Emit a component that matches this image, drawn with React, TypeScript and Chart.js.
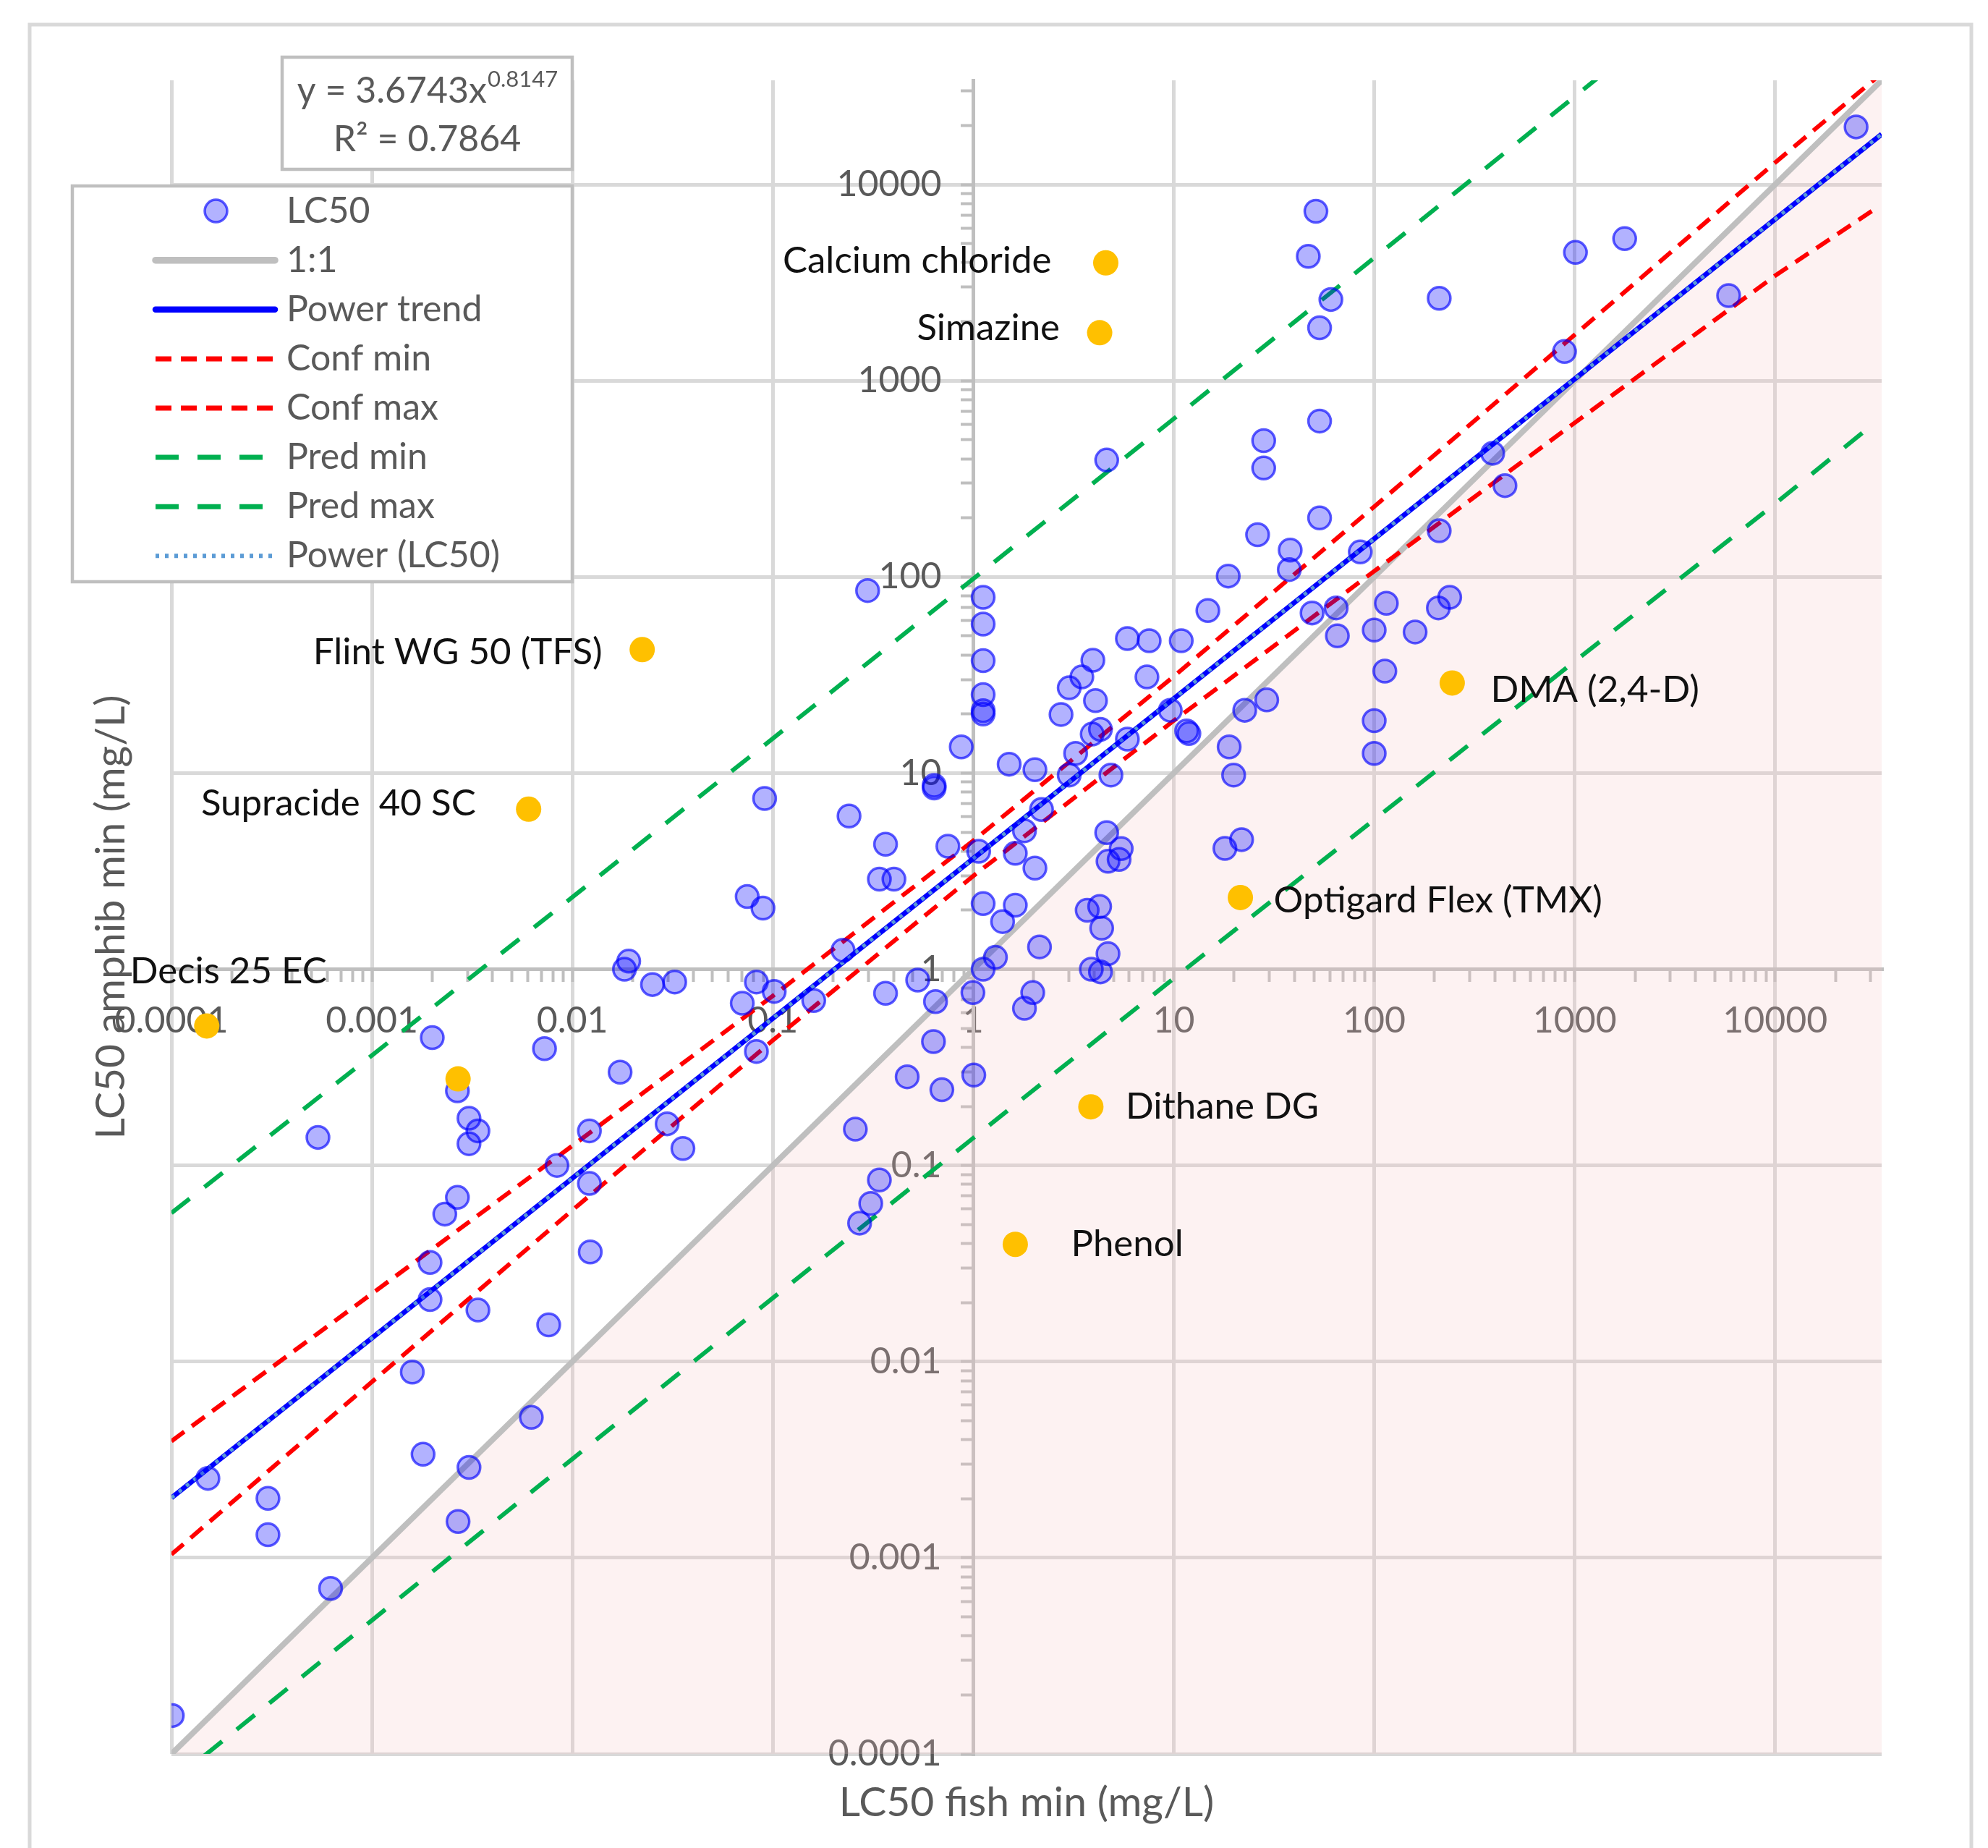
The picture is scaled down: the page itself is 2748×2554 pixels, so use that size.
import { useEffect, useRef } from 'react';
import { Chart, registerables } from 'chart.js';

Chart.register(...registerables);

const CANVAS_W = 2748;
const CANVAS_H = 2554;

// ---------- axes ----------
const axisMin = 0.0001;
const axisMax = 34000;
const tickValues = [0.0001, 0.001, 0.01, 0.1, 1, 10, 100, 1000, 10000];
const tickLabels = ['0.0001', '0.001', '0.01', '0.1', '1', '10', '100', '1000', '10000'];
const minorMultipliers = [2, 3, 4, 5, 6, 7, 8, 9];

const xTitle = 'LC50 fish min (mg/L)';
const yTitle = 'LC50 amphib min (mg/L)';

// ---------- series ----------
const seriesNames = ['LC50', '1:1', 'Power trend', 'Conf min', 'Conf max', 'Pred min', 'Pred max', 'Power (LC50)'];

// LC50 fish min (x) and LC50 amphibian min (y), mg/L
const fishLC50 = [
  25350, 51.2, 46.9, 1776, 1009, 60.8, 53.4, 211, 5863, 890,
  53.4, 390, 449, 53.4, 211, 85.2, 49.0, 64.6, 115, 209,
  238, 65.5, 100, 160, 113, 100, 100, 4.63, 28.1, 28.1,
  26.2, 38.1, 37.7, 18.7, 14.8, 0.297, 1.12, 1.12, 1.12, 1.12,
  1.12, 1.12, 0.871, 0.638, 0.638, 0.091, 0.240, 0.365, 0.747, 0.340,
  0.402, 0.0745, 0.0893, 1.064, 1.51, 2.03, 2.19, 1.80, 1.62, 2.03,
  1.12, 1.62, 1.40, 1.29, 1.12, 0.224, 0.0828, 0.1016, 0.0704, 0.160,
  0.365, 0.528, 0.648, 0.996, 1.98, 1.80, 4.63, 5.47, 4.70, 5.34,
  3.70, 4.27, 4.37, 4.70, 3.88, 4.31, 2.14, 3.01, 3.48, 3.95,
  4.07, 2.74, 5.87, 7.54, 10.9, 7.35, 9.61, 11.6, 11.9, 3.92,
  4.31, 5.87, 3.24, 3.01, 4.86, 18.9, 19.9, 22.6, 29.1, 18.0,
  21.8, 0.633, 0.468, 0.697, 1.006, 0.258, 0.340, 0.308, 0.271, 0.0297,
  0.0356, 0.0251, 0.0324, 0.0828, 0.0191, 0.0182, 0.00200, 0.00726, 0.0173, 0.00267,
  0.00305, 0.00338, 0.00305, 0.000538, 0.01216, 0.00838, 0.01216, 0.00267, 0.00231, 0.00195,
  0.01228, 0.00195, 0.00338, 0.00762, 0.00159, 0.00624, 0.00180, 0.00305, 0.000152, 0.000303,
  0.000303, 0.00269, 0.000622, 0.000101,
];
const amphibLC50 = [
  19680, 7310, 4310, 5300, 4510, 2596, 1862, 2633, 2716, 1409,
  623, 427, 292, 200, 172, 134, 65.5, 69.5, 73.4, 69.5,
  78.7, 50.1, 53.6, 52.4, 33.1, 18.5, 12.6, 394, 495, 359,
  164, 137, 109, 101, 67.4, 85.2, 78.7, 57.5, 37.4, 25.1,
  20.8, 20.0, 13.6, 8.65, 8.40, 7.42, 6.04, 4.34, 4.24, 2.88,
  2.88, 2.35, 2.05, 3.99, 11.1, 10.4, 6.52, 5.08, 3.90, 3.28,
  2.16, 2.12, 1.75, 1.15, 1.00, 1.25, 0.861, 0.771, 0.671, 0.693,
  0.754, 0.881, 0.684, 0.760, 0.760, 0.632, 4.97, 4.12, 3.55, 3.63,
  2.00, 2.09, 1.62, 1.20, 1.00, 0.97, 1.30, 27.2, 30.9, 37.6,
  23.4, 19.9, 48.5, 47.3, 47.3, 30.9, 20.9, 16.4, 15.9, 15.8,
  16.7, 14.9, 12.6, 9.77, 9.77, 13.6, 9.77, 20.9, 23.6, 4.13,
  4.58, 0.428, 0.283, 0.243, 0.289, 0.153, 0.0843, 0.0640, 0.0508, 0.163,
  0.122, 0.836, 0.861, 0.381, 1.10, 1.00, 0.448, 0.394, 0.299, 0.240,
  0.174, 0.150, 0.129, 0.139, 0.150, 0.100, 0.0809, 0.0687, 0.0565, 0.0320,
  0.0362, 0.0207, 0.0183, 0.0154, 0.00884, 0.00520, 0.00337, 0.00289, 0.00254, 0.00201,
  0.00131, 0.00153, 0.000698, 0.000157,
];

// highlighted (named) substances
const namedLabels = ['Calcium chloride', 'Simazine', 'Flint WG 50 (TFS)', 'Supracide  40 SC', 'Decis 25 EC', '', 'DMA (2,4-D)', 'Optigard Flex (TMX)', 'Dithane DG', 'Phenol'];
const namedFish = [4.58, 4.27, 0.0223, 0.00605, 0.000150, 0.00269, 245, 21.5, 3.86, 1.62];
const namedAmphib = [3990, 1757, 42.6, 6.55, 0.514, 0.276, 28.8, 2.32, 0.199, 0.0396];

// 1:1 line
const identityX = [0.0001, 34000];
const identityY = [0.0001, 34000];

// power trend y = 3.6743 x^0.8147 (end points)
const trendX = [0.0001, 34000];
const trendY = [0.00202, 18070];

// confidence and prediction bands read at each decade
const bandX = [0.0001, 0.001, 0.01, 0.1, 1, 10, 100, 1000, 10000, 32000];
const confMinY = [0.00104, 0.00788, 0.0591, 0.434, 2.99, 18.5, 107, 610, 3430, 7600];
const confMaxY = [0.00393, 0.0222, 0.126, 0.731, 4.52, 31.1, 228, 1713, 12950, 35000];
const predMinY = [0.0000717, 0.00048, 0.00319, 0.0211, 0.138, 0.898, 5.79, 37.1, 236, 620];
const predMaxY = [0.0572, 0.364, 2.33, 15.0, 97.8, 640, 4230, 28100, 188000, 500000];

const equationMain = 'y = 3.6743x';
const equationExponent = '0.8147';
const rSquaredText = 'R\u00B2 = 0.7864';

// ---------- styles / layout ----------
const FONT = 'Lato, "DejaVu Sans", sans-serif';
const TEXT_GREY = '#595959';
const Y_LABEL_GAP = '\u2003\u2009'; // keeps the y labels clear of the centred axis line
const labelPlacement = [
  { side: 'left', dx: -75, dy: -3 },
  { side: 'left', dx: -55, dy: -6 },
  { side: 'left', dx: -55, dy: 4 },
  { side: 'left', dx: -73, dy: -8 },
  { side: 'center', dx: 30, dy: -75 },
  { side: 'none', dx: 0, dy: 0 },
  { side: 'right', dx: 53, dy: 10 },
  { side: 'right', dx: 46, dy: 4 },
  { side: 'right', dx: 48, dy: 0 },
  { side: 'right', dx: 77, dy: 0 },
];
const frame = { left: 41, top: 34, right: 2725 };
const equationBox = { left: 390, top: 79, right: 791, bottom: 234 };
const legendBox = { left: 100, top: 257, right: 791, bottom: 804 };
const legendLayout = { firstRowY: 291.6, rowGap: 68.1, sampleStart: 215, sampleEnd: 380, markerX: 298.5, textX: 396 };

function toPoints(xs: number[], ys: number[]) {
  return xs.map((x, i) => ({ x, y: ys[i] }));
}

function labelFor(v: number) {
  for (let i = 0; i < tickValues.length; i++) {
    if (Math.abs(Math.log10(v) - Math.log10(tickValues[i])) < 1e-6) return tickLabels[i];
  }
  return '';
}

function buildLogTicks(scale: any) {
  const ticks: any[] = [];
  tickValues.forEach((d) => {
    [1, ...minorMultipliers].forEach((m) => {
      const v = m * d;
      if (v >= axisMin * 0.999999 && v <= axisMax) ticks.push({ value: v, major: m === 1 });
    });
  });
  ticks.sort((a, b) => a.value - b.value);
  scale.ticks = ticks;
}

const NAMED_INDEX = 8;

const decorPlugin = {
  id: 'decor',
  beforeDraw(chart: any) {
    const { ctx, width, height } = chart;
    ctx.save();
    ctx.fillStyle = '#ffffff';
    ctx.fillRect(0, 0, width, height);
    ctx.strokeStyle = '#d9d9d9';
    ctx.lineWidth = 5;
    ctx.beginPath();
    ctx.moveTo(frame.left, height + 10);
    ctx.lineTo(frame.left, frame.top);
    ctx.lineTo(frame.right, frame.top);
    ctx.lineTo(frame.right, height + 10);
    ctx.stroke();
    ctx.restore();
  },
  afterDraw(chart: any) {
    const ctx = chart.ctx;
    const area = chart.chartArea;
    ctx.save();

    // labels of named points
    const meta = chart.getDatasetMeta(NAMED_INDEX);
    ctx.font = `51px ${FONT}`;
    ctx.fillStyle = '#111111';
    ctx.textBaseline = 'middle';
    meta.data.forEach((el: any, i: number) => {
      const text = namedLabels[i];
      const pl = labelPlacement[i];
      if (!text || !pl || pl.side === 'none') return;
      ctx.textAlign = pl.side === 'left' ? 'right' : pl.side === 'right' ? 'left' : 'center';
      ctx.fillText(text, el.x + pl.dx, el.y + pl.dy);
    });

    // equation box
    ctx.fillStyle = '#ffffff';
    ctx.fillRect(equationBox.left, equationBox.top, equationBox.right - equationBox.left, equationBox.bottom - equationBox.top);
    ctx.strokeStyle = '#bfbfbf';
    ctx.lineWidth = 4.5;
    ctx.strokeRect(equationBox.left, equationBox.top, equationBox.right - equationBox.left, equationBox.bottom - equationBox.top);
    ctx.fillStyle = TEXT_GREY;
    ctx.textBaseline = 'alphabetic';
    ctx.textAlign = 'left';
    ctx.font = `50px ${FONT}`;
    const w1 = ctx.measureText(equationMain).width;
    ctx.font = `31px ${FONT}`;
    const w2 = ctx.measureText(equationExponent).width;
    const cx = (equationBox.left + equationBox.right) / 2;
    const x0 = cx - (w1 + w2) / 2;
    ctx.font = `50px ${FONT}`;
    ctx.fillText(equationMain, x0, 142);
    ctx.font = `31px ${FONT}`;
    ctx.fillText(equationExponent, x0 + w1 + 1, 120);
    ctx.font = `50px ${FONT}`;
    ctx.textAlign = 'center';
    ctx.fillText(rSquaredText, cx, 209);

    // legend
    ctx.fillStyle = '#ffffff';
    ctx.fillRect(legendBox.left, legendBox.top, legendBox.right - legendBox.left, legendBox.bottom - legendBox.top);
    ctx.strokeStyle = '#bfbfbf';
    ctx.lineWidth = 4.5;
    ctx.strokeRect(legendBox.left, legendBox.top, legendBox.right - legendBox.left, legendBox.bottom - legendBox.top);
    const datasets = chart.data.datasets;
    seriesNames.forEach((name, i) => {
      const ds = datasets[i];
      const y = legendLayout.firstRowY + i * legendLayout.rowGap;
      if (!ds.showLine) {
        ctx.beginPath();
        ctx.arc(legendLayout.markerX, y, ds.pointRadius, 0, Math.PI * 2);
        ctx.fillStyle = ds.backgroundColor;
        ctx.fill();
        ctx.lineWidth = ds.borderWidth;
        ctx.strokeStyle = ds.borderColor;
        ctx.stroke();
      } else {
        ctx.beginPath();
        ctx.setLineDash(ds.borderDash || []);
        ctx.lineCap = ds.borderDash ? 'butt' : 'round';
        ctx.lineWidth = ds.borderWidth + (ds.borderDash ? 1 : 1.5);
        ctx.strokeStyle = ds.borderColor;
        ctx.moveTo(legendLayout.sampleStart, y);
        ctx.lineTo(legendLayout.sampleEnd, y);
        ctx.stroke();
        ctx.setLineDash([]);
        ctx.lineCap = 'butt';
      }
      ctx.fillStyle = TEXT_GREY;
      ctx.font = `50px ${FONT}`;
      ctx.textAlign = 'left';
      ctx.textBaseline = 'middle';
      ctx.fillText(name, legendLayout.textX, y);
    });

    // axis titles
    ctx.fillStyle = TEXT_GREY;
    ctx.font = `57px ${FONT}`;
    ctx.textAlign = 'center';
    ctx.textBaseline = 'middle';
    ctx.fillText(xTitle, (area.left + area.right) / 2, area.bottom + 68);
    ctx.translate(area.left - 83, (area.top + area.bottom) / 2);
    ctx.rotate(-Math.PI / 2);
    ctx.fillText(yTitle, 0, 0);
    ctx.restore();
  },
};

function axisOptions(position: any, padding: number, suffix: string) {
  return {
    type: 'logarithmic',
    position,
    min: axisMin,
    max: axisMax,
    afterBuildTicks: buildLogTicks,
    grid: {
      color: (c: any) => (c.tick && c.tick.major ? '#d9d9d9' : 'rgba(0,0,0,0)'),
      lineWidth: 5,
      drawTicks: true,
      tickLength: 15,
      tickWidth: 4,
      tickColor: '#bfbfbf',
    },
    border: { display: true, color: '#bfbfbf', width: 5 },
    ticks: {
      autoSkip: false,
      maxRotation: 0,
      minRotation: 0,
      color: TEXT_GREY,
      font: { family: FONT, size: 50 },
      padding,
      callback: (v: any) => {
        const s = labelFor(Number(v));
        return s ? s + suffix : '';
      },
    },
  };
}

export default function App() {
  const canvasRef = useRef<HTMLCanvasElement | null>(null);

  useEffect(() => {
    const canvas = canvasRef.current;
    if (!canvas) return;
    const lineBase = { showLine: true, pointRadius: 0, pointHoverRadius: 0, tension: 0, fill: false };
    const datasets: any[] = [
      {
        label: seriesNames[0],
        data: toPoints(fishLC50, amphibLC50),
        showLine: false,
        pointRadius: 15.5,
        borderWidth: 3.5,
        backgroundColor: 'rgba(0,0,255,0.30)',
        borderColor: 'rgba(0,0,255,0.64)',
        order: 1,
      },
      {
        ...lineBase,
        label: seriesNames[1],
        data: toPoints(identityX, identityY),
        borderColor: '#bfbfbf',
        borderWidth: 8,
        fill: 'start',
        backgroundColor: 'rgba(245,195,195,0.22)',
        order: 10,
      },
      { ...lineBase, label: seriesNames[2], data: toPoints(trendX, trendY), borderColor: '#0000ff', borderWidth: 7, order: 3 },
      { ...lineBase, label: seriesNames[3], data: toPoints(bandX, confMinY), borderColor: '#ff0000', borderWidth: 6, borderDash: [22, 13], order: 4 },
      { ...lineBase, label: seriesNames[4], data: toPoints(bandX, confMaxY), borderColor: '#ff0000', borderWidth: 6, borderDash: [22, 13], order: 4 },
      { ...lineBase, label: seriesNames[5], data: toPoints(bandX, predMinY), borderColor: '#00b050', borderWidth: 6, borderDash: [32, 26], order: 5 },
      { ...lineBase, label: seriesNames[6], data: toPoints(bandX, predMaxY), borderColor: '#00b050', borderWidth: 6, borderDash: [32, 26], order: 5 },
      { ...lineBase, label: seriesNames[7], data: toPoints(trendX, trendY), borderColor: '#5b9bd5', borderWidth: 5, borderDash: [5, 8], order: 2 },
      {
        label: 'named',
        data: toPoints(namedFish, namedAmphib),
        showLine: false,
        pointRadius: 17.5,
        borderWidth: 0,
        backgroundColor: '#ffc000',
        borderColor: '#ffc000',
        order: 0,
      },
    ];

    const chart = new Chart(canvas, {
      type: 'scatter',
      data: { datasets },
      options: {
        responsive: false,
        animation: false,
        devicePixelRatio: 1,
        events: [],
        layout: { padding: { left: 237, top: 111, right: CANVAS_W - 2601, bottom: CANVAS_H - 2424 } },
        plugins: { legend: { display: false }, tooltip: { enabled: false } },
        scales: {
          x: axisOptions({ y: 1 }, 26, ''),
          y: axisOptions({ x: 1 }, 37, Y_LABEL_GAP),
        },
      } as any,
      plugins: [decorPlugin as any],
    } as any);
    return () => chart.destroy();
  }, []);

  return (
    <div style={{ position: 'absolute', left: 0, top: 0, width: CANVAS_W, height: CANVAS_H, background: '#ffffff' }}>
      <canvas ref={canvasRef} width={CANVAS_W} height={CANVAS_H} style={{ width: CANVAS_W, height: CANVAS_H, display: 'block' }} />
    </div>
  );
}
